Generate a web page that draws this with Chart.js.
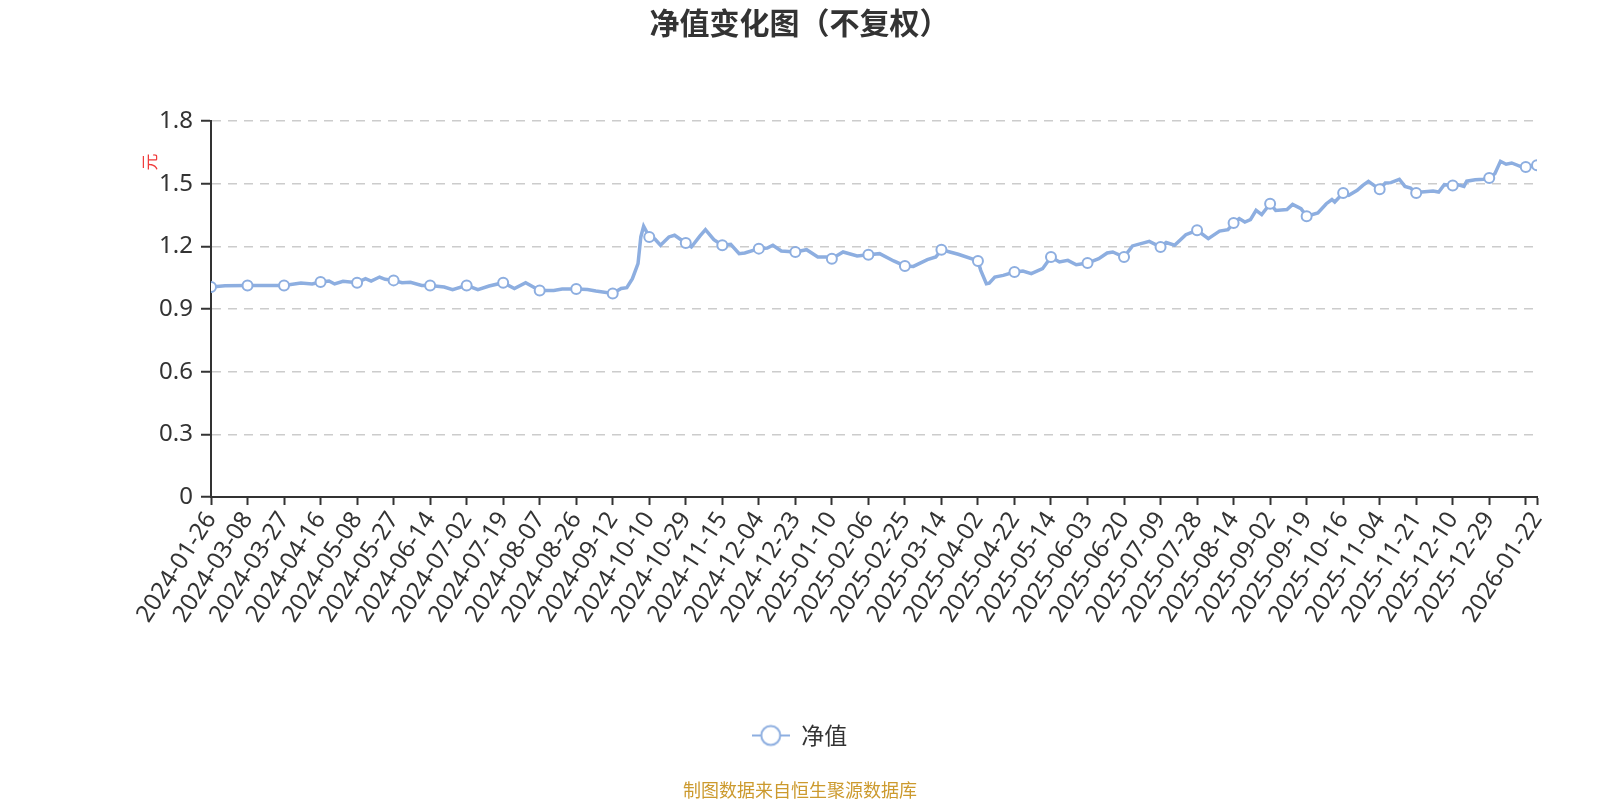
<!DOCTYPE html>
<html>
<head>
<meta charset="utf-8">
<title>净值变化图（不复权）</title>
<script src="https://cdn.jsdelivr.net/npm/chart.js@4/dist/chart.umd.min.js"></script>
<style>
  html, body { margin: 0; padding: 0; background: #fff; }
  #wrap { width: 1600px; height: 800px; }
</style>
</head>
<body>
<div id="wrap"><canvas id="nav-chart" width="1600" height="800"></canvas></div>
<script>
// labelled dates on the x axis, one every 13 trading days, plus the last day
const dateLabels = [
  "2024-01-26", "2024-03-08", "2024-03-27", "2024-04-16", "2024-05-08", "2024-05-27",
  "2024-06-14", "2024-07-02", "2024-07-19", "2024-08-07", "2024-08-26", "2024-09-12",
  "2024-10-10", "2024-10-29", "2024-11-15", "2024-12-04", "2024-12-23", "2025-01-10",
  "2025-02-06", "2025-02-25", "2025-03-14", "2025-04-02", "2025-04-22", "2025-05-14",
  "2025-06-03", "2025-06-20", "2025-07-09", "2025-07-28", "2025-08-14", "2025-09-02",
  "2025-09-19", "2025-10-16", "2025-11-04", "2025-11-21", "2025-12-10", "2025-12-29",
  "2026-01-22"
];
const labelStep = 13;
const lastDay = 472;

// trading-day number and net value
const navDay = [
  0, 5, 13, 26, 32, 36, 39, 42, 44, 47, 52, 55, 57, 60, 62, 65, 68, 71, 75, 78,
  83, 86, 91, 95, 99, 104, 108, 112, 117, 122, 125, 130, 134, 137, 143, 146, 148, 150, 152, 153,
  154, 156, 158, 160, 163, 165, 169, 171, 174, 176, 179, 182, 185, 188, 190, 195, 198, 200, 203, 208,
  212, 216, 219, 221, 225, 230, 234, 238, 243, 247, 250, 255, 258, 260, 263, 266, 273, 274, 276, 277,
  279, 282, 286, 289, 292, 296, 299, 302, 305, 308, 312, 316, 319, 321, 325, 328, 334, 338, 340, 343,
  347, 351, 355, 359, 362, 364, 366, 368, 370, 372, 374, 377, 379, 383, 385, 388, 390, 394, 397, 399,
  400, 403, 405, 408, 410, 412, 414, 416, 418, 420, 423, 425, 427, 429, 431, 435, 437, 439, 442, 444,
  446, 447, 450, 453, 455, 457, 459, 461, 463, 466, 468, 472
];
const navValue = [
  1.005, 1.011, 1.012, 1.013, 1.024, 1.020, 1.029, 1.034, 1.020, 1.033, 1.026, 1.045, 1.034, 1.053, 1.042, 1.037, 1.026, 1.028, 1.013, 1.013,
  1.005, 0.993, 1.013, 0.993, 1.010, 1.026, 0.998, 1.026, 0.989, 0.989, 0.996, 0.996, 0.993, 0.986, 0.974, 0.998, 1.002, 1.045, 1.117, 1.245,
  1.296, 1.245, 1.235, 1.205, 1.245, 1.253, 1.216, 1.197, 1.249, 1.280, 1.232, 1.205, 1.210, 1.165, 1.168, 1.189, 1.192, 1.205, 1.178, 1.173,
  1.184, 1.149, 1.149, 1.141, 1.173, 1.154, 1.160, 1.165, 1.130, 1.106, 1.104, 1.136, 1.149, 1.184, 1.173, 1.162, 1.130, 1.085, 1.021, 1.024,
  1.053, 1.061, 1.077, 1.082, 1.069, 1.093, 1.149, 1.125, 1.133, 1.112, 1.120, 1.141, 1.168, 1.173, 1.149, 1.202, 1.224, 1.197, 1.218, 1.205,
  1.256, 1.277, 1.237, 1.273, 1.280, 1.312, 1.333, 1.316, 1.328, 1.372, 1.352, 1.404, 1.372, 1.376, 1.401, 1.380, 1.344, 1.360, 1.404, 1.424,
  1.412, 1.455, 1.444, 1.468, 1.492, 1.511, 1.492, 1.473, 1.503, 1.505, 1.521, 1.487, 1.479, 1.455, 1.460, 1.465, 1.460, 1.495, 1.491, 1.495,
  1.487, 1.512, 1.519, 1.521, 1.527, 1.548, 1.607, 1.593, 1.599, 1.583, 1.580, 1.588
];

const lineColor = "#8daee0";
const textColor = "#333";

Chart.defaults.font.family = '"Noto Sans", "Noto Sans CJK SC", sans-serif';
Chart.defaults.color = textColor;

// legend icon: short line with a hollow circle, like the original
function makeLegendIcon() {
  const c = document.createElement("canvas");
  c.width = 38;
  c.height = 24;
  const g = c.getContext("2d");
  g.strokeStyle = lineColor;
  g.lineWidth = 2;
  g.beginPath();
  g.moveTo(0, 12);
  g.lineTo(38, 12);
  g.stroke();
  g.fillStyle = "#fff";
  g.beginPath();
  g.arc(19, 12, 9.5, 0, Math.PI * 2);
  g.fill();
  g.stroke();
  return c;
}
const legendIcon = makeLegendIcon();

// y axis name and the source line under the legend
const extraText = {
  id: "extraText",
  afterDraw(chart) {
    const ctx = chart.ctx;
    ctx.save();
    ctx.fillStyle = "#f03c3c";
    ctx.font = '17px "Noto Sans CJK SC", sans-serif';
    ctx.textAlign = "center";
    ctx.textBaseline = "middle";
    ctx.translate(150, 162);
    ctx.rotate(-Math.PI / 2);
    ctx.fillText("元", 0, 0);
    ctx.restore();

    ctx.save();
    ctx.fillStyle = "#cc9a2e";
    ctx.font = '18px "Noto Sans CJK SC", sans-serif';
    ctx.textAlign = "center";
    ctx.textBaseline = "middle";
    ctx.fillText("制图数据来自恒生聚源数据库", 800, 790);
    ctx.restore();
  }
};

const points = navDay.map((d, i) => ({ x: d, y: navValue[i] }));

new Chart("nav-chart", {
  type: "line",
  data: {
    datasets: [{
      label: "净值",
      data: points,
      borderColor: lineColor,
      borderWidth: 3.5,
      backgroundColor: "#fff",
      pointBackgroundColor: "#fff",
      pointBorderColor: lineColor,
      pointBorderWidth: 2,
      pointRadius: ctx => {
        const d = ctx.raw ? ctx.raw.x : -1;
        return (d % labelStep === 0 || d === lastDay) ? 5 : 0;
      },
      tension: 0,
      fill: false
    }]
  },
  options: {
    responsive: false,
    animation: false,
    layout: { padding: { left: 62, right: 63, top: 0, bottom: 43 } },
    plugins: {
      title: {
        display: true,
        text: "净值变化图（不复权）",
        color: textColor,
        font: { size: 30, weight: "bold", family: '"Noto Sans CJK SC", sans-serif' },
        padding: { top: 5, bottom: 80 }
      },
      legend: {
        position: "bottom",
        labels: {
          usePointStyle: true,
          pointStyleWidth: 38,
          padding: 10,
          color: textColor,
          font: { size: 23, family: '"Noto Sans CJK SC", sans-serif' },
          generateLabels: () => [{
            text: "净值",
            pointStyle: legendIcon,
            fontColor: textColor,
            fillStyle: "transparent",
            strokeStyle: "transparent",
            lineWidth: 0,
            datasetIndex: 0
          }]
        }
      },
      tooltip: { enabled: false }
    },
    scales: {
      x: {
        type: "linear",
        min: 0,
        max: lastDay,
        afterBuildTicks: scale => {
          const ticks = [];
          for (let d = 0; d <= lastDay - 1; d += labelStep) ticks.push({ value: d });
          ticks.push({ value: lastDay });
          scale.ticks = ticks;
        },
        afterFit: scale => { scale.height = 217; },
        grid: {
          drawOnChartArea: false,
          drawTicks: true,
          tickLength: 8,
          tickColor: textColor,
          tickWidth: 2
        },
        border: { display: true, color: textColor, width: 2 },
        ticks: {
          autoSkip: false,
          minRotation: 57,
          maxRotation: 57,
          padding: 2,
          color: textColor,
          font: { size: 24 },
          callback: value => {
            if (value === lastDay) return dateLabels[dateLabels.length - 1];
            const k = value / labelStep;
            return k < dateLabels.length - 1 ? dateLabels[k] : "";
          }
        }
      },
      y: {
        min: 0,
        max: 1.8,
        afterFit: scale => { scale.width = 149; },
        grid: {
          color: "#cccccc",
          lineWidth: 1.5,
          drawTicks: true,
          tickLength: 10,
          tickColor: textColor,
          tickWidth: 2,
          tickBorderDash: []
        },
        border: { display: true, color: textColor, width: 2, dash: [9, 7] },
        ticks: {
          stepSize: 0.3,
          padding: 8,
          color: textColor,
          font: { size: 24 },
          callback: value => String(Math.round(value * 10) / 10)
        }
      }
    }
  },
  plugins: [extraText]
});
</script>
</body>
</html>
